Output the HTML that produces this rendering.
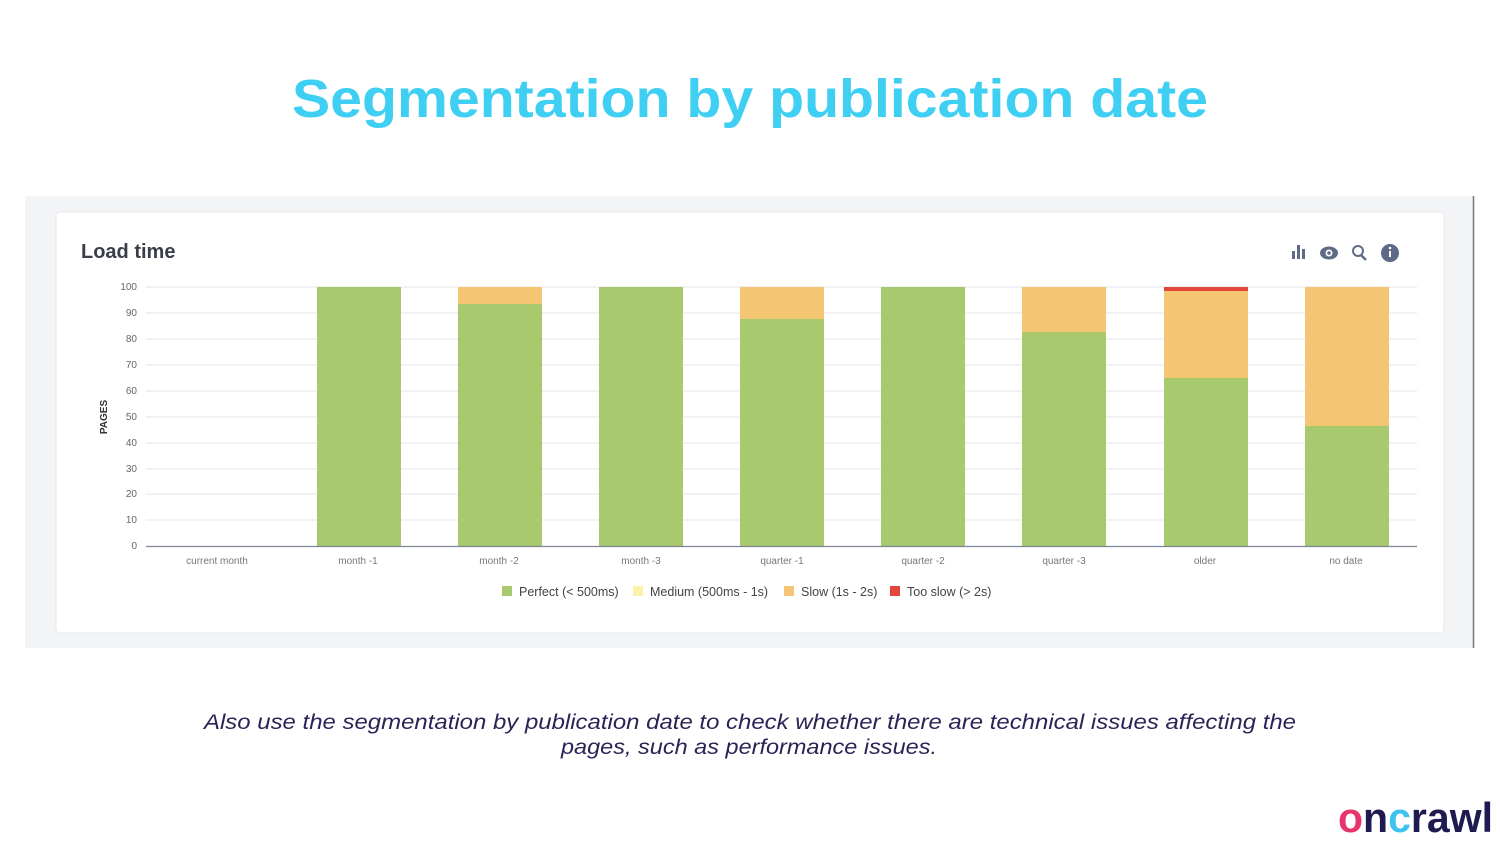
<!DOCTYPE html>
<html><head><meta charset="utf-8"><style>
html,body{margin:0;padding:0;background:#fff;}
svg{display:block;font-family:"Liberation Sans",sans-serif;}
</style></head><body>
<svg width="1500" height="844" viewBox="0 0 1500 844" xmlns="http://www.w3.org/2000/svg">
<rect width="1500" height="844" fill="#fff"/>
<text x="750" y="117" text-anchor="middle" font-size="54" font-weight="bold" fill="#3ecff3" textLength="916" lengthAdjust="spacingAndGlyphs">Segmentation by publication date</text>
<rect x="25" y="196" width="1448" height="452" fill="#f3f4f6"/>
<line x1="1473.5" y1="196" x2="1473.5" y2="648" stroke="#777" stroke-width="1.5"/>
<rect x="56" y="212" width="1388" height="421" rx="4" fill="#fff" stroke="#e6e8ec"/>
<text x="81" y="258" font-size="20" font-weight="bold" fill="#3a3d4a">Load time</text>
<!-- icons -->
<g fill="#5f6b86">
<rect x="1292" y="251" width="3" height="8"/><rect x="1297" y="245" width="3" height="14"/><rect x="1302" y="249" width="3" height="10"/>
<ellipse cx="1329" cy="253" rx="9" ry="6.5"/><circle cx="1329" cy="253" r="3.5" fill="#fff"/><circle cx="1329" cy="253" r="1.8"/>
<circle cx="1358" cy="251" r="5" fill="none" stroke="#5f6b86" stroke-width="2"/><line x1="1361" y1="255" x2="1366" y2="260" stroke="#5f6b86" stroke-width="2.5"/>
<circle cx="1390" cy="253" r="9"/>
</g>
<rect x="1389" y="251" width="2" height="6" fill="#fff"/><circle cx="1390" cy="248" r="1.3" fill="#fff"/>
<!-- grid -->
<g stroke="#e4e6ea" stroke-width="1">
<line x1="146" y1="287" x2="1417" y2="287"/><line x1="146" y1="313" x2="1417" y2="313"/><line x1="146" y1="339" x2="1417" y2="339"/><line x1="146" y1="365" x2="1417" y2="365"/><line x1="146" y1="391" x2="1417" y2="391"/><line x1="146" y1="417" x2="1417" y2="417"/><line x1="146" y1="443" x2="1417" y2="443"/><line x1="146" y1="469" x2="1417" y2="469"/><line x1="146" y1="494" x2="1417" y2="494"/><line x1="146" y1="520" x2="1417" y2="520"/>
</g>
<g font-size="10" fill="#666" text-anchor="end">
<text x="137" y="290">100</text><text x="137" y="316">90</text><text x="137" y="342">80</text><text x="137" y="368">70</text><text x="137" y="394">60</text><text x="137" y="420">50</text><text x="137" y="446">40</text><text x="137" y="472">30</text><text x="137" y="497">20</text><text x="137" y="523">10</text><text x="137" y="549">0</text>
</g>
<text transform="translate(107,417) rotate(-90)" font-size="10" font-weight="bold" fill="#333" text-anchor="middle">PAGES</text>
<!-- bars -->
<g>
<rect x="317" y="287" width="84" height="259" fill="#a8c96e"/>
<rect x="458" y="287" width="84" height="17" fill="#f4c572"/><rect x="458" y="304" width="84" height="242" fill="#a8c96e"/>
<rect x="599" y="287" width="84" height="259" fill="#a8c96e"/>
<rect x="740" y="287" width="84" height="32" fill="#f4c572"/><rect x="740" y="319" width="84" height="227" fill="#a8c96e"/>
<rect x="881" y="287" width="84" height="259" fill="#a8c96e"/>
<rect x="1022" y="287" width="84" height="45" fill="#f4c572"/><rect x="1022" y="332" width="84" height="214" fill="#a8c96e"/>
<rect x="1164" y="287" width="84" height="4" fill="#e0463c"/><rect x="1164" y="291" width="84" height="87" fill="#f4c572"/><rect x="1164" y="378" width="84" height="168" fill="#a8c96e"/>
<rect x="1305" y="287" width="84" height="139" fill="#f4c572"/><rect x="1305" y="426" width="84" height="120" fill="#a8c96e"/>
</g>
<line x1="146" y1="546.5" x2="1417" y2="546.5" stroke="#7d8597" stroke-width="1.2"/>
<g font-size="10" fill="#777" text-anchor="middle">
<text x="217" y="564">current month</text><text x="358" y="564">month -1</text><text x="499" y="564">month -2</text><text x="641" y="564">month -3</text><text x="782" y="564">quarter -1</text><text x="923" y="564">quarter -2</text><text x="1064" y="564">quarter -3</text><text x="1205" y="564">older</text><text x="1346" y="564">no date</text>
</g>
<g font-size="12.5" fill="#444">
<rect x="502" y="586" width="10" height="10" fill="#a8c96e"/><text x="519" y="596">Perfect (&lt; 500ms)</text>
<rect x="633" y="586" width="10" height="10" fill="#fbf1a8"/><text x="650" y="596">Medium (500ms - 1s)</text>
<rect x="784" y="586" width="10" height="10" fill="#f4c572"/><text x="801" y="596">Slow (1s - 2s)</text>
<rect x="890" y="586" width="10" height="10" fill="#e0463c"/><text x="907" y="596">Too slow (&gt; 2s)</text>
</g>
<g font-size="21" font-style="italic" fill="#2a2456" text-anchor="middle">
<text x="750" y="729" textLength="1092" lengthAdjust="spacingAndGlyphs">Also use the segmentation by publication date to check whether there are technical issues affecting the</text>
<text x="749" y="754" textLength="376" lengthAdjust="spacingAndGlyphs">pages, such as performance issues.</text>
</g>
<text x="1338" y="832" font-size="42" font-weight="bold" fill="#1f1a4f" textLength="155" lengthAdjust="spacingAndGlyphs"><tspan fill="#e8336d">o</tspan>n<tspan fill="#3cc4ee">c</tspan>rawl</text>
</svg>
</body></html>
